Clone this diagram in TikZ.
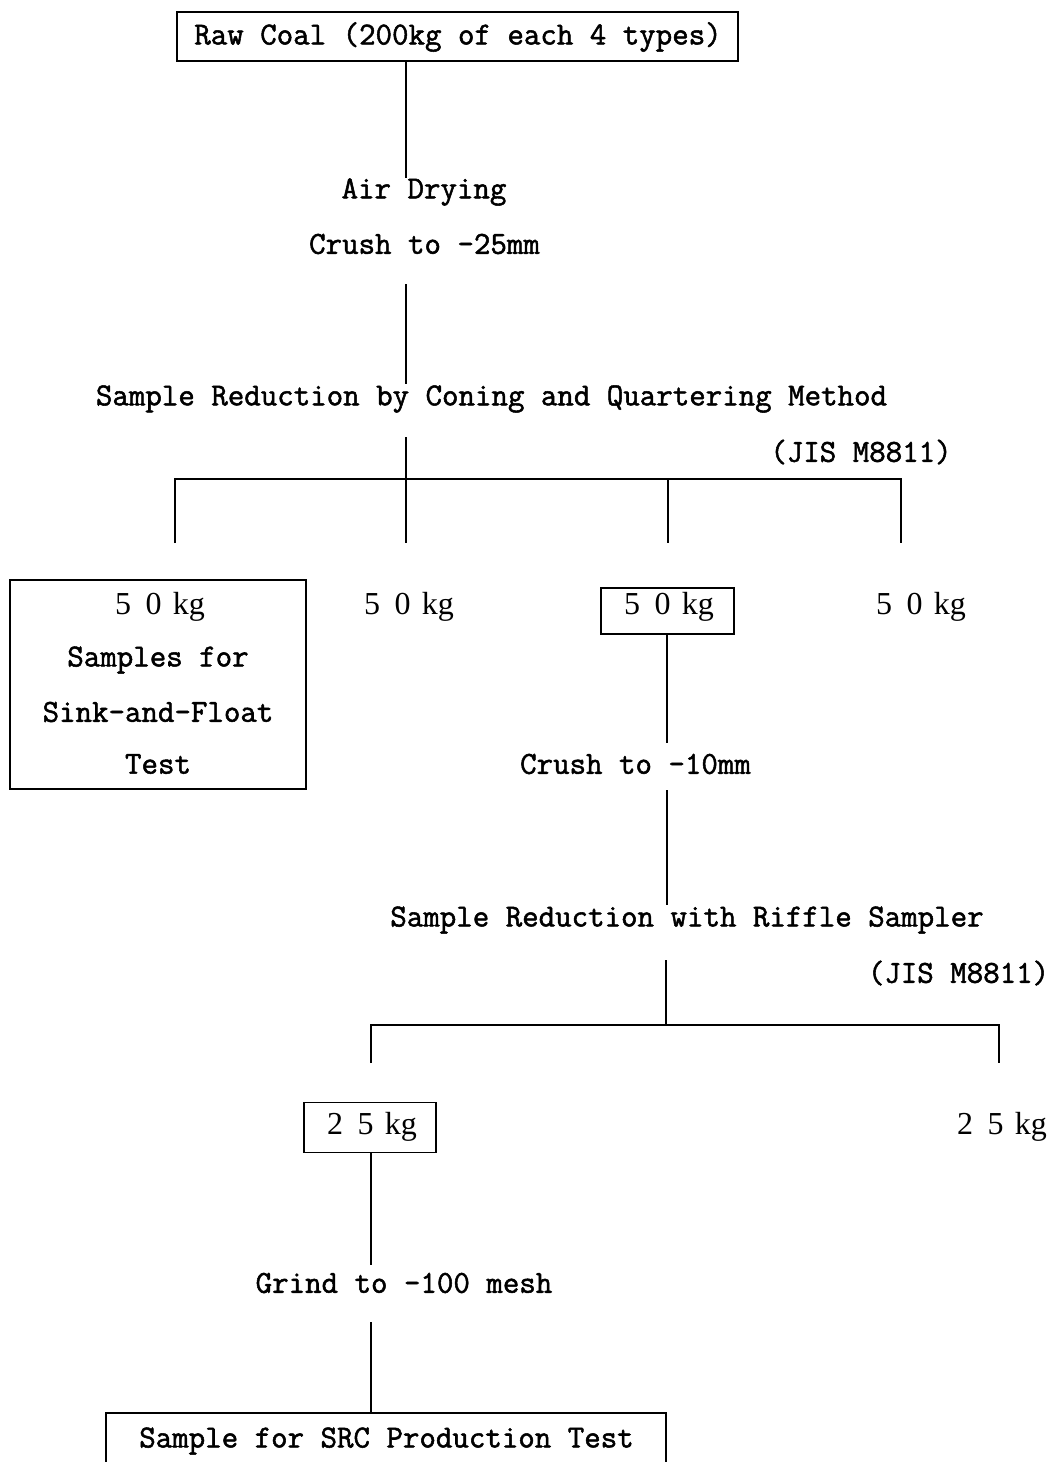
\documentclass[tikz,border=0pt]{standalone}
\usepackage{fontspec}
\setmonofont[FakeBold=1.6]{Latin Modern Mono}
\newfontfamily\kgfont{Liberation Serif}
\newcommand\kgtxt[2]{{\kgfont #1\hspace{0.45em}#2\hspace{0.35em}kg}}
\begin{document}
\begin{tikzpicture}[x=1pt,y=-1pt,
  every node/.style={font=\ttfamily\fontsize{32}{32}\selectfont, inner sep=0pt, anchor=center},
  kg/.style={font=\kgfont\fontsize{32}{32}\selectfont},
  frame/.style={draw, line width=1.3pt},
  conn/.style={line width=1.6pt}]
\useasboundingbox (0,0) rectangle (1054,1462);
\fill[white] (0,0) rectangle (1054,1462);

% top box
\node[frame, minimum width=561pt, minimum height=49pt] (raw) at (457.5,36.5) {};
\node (rawt) at (458,37) {Raw Coal (200kg of each 4 types)};

\node (air) at (424,192) {Air Drying};
\node (cr25) at (424.5,244) {Crush to -25mm};
\node (samp) at (491.5,399) {Sample Reduction by Coning and Quartering Method};
\node (jis1) at (861,452) {(JIS M8811)};

% left box
\node[frame, minimum width=296pt, minimum height=209pt] (sf) at (158,684.5) {};
\node[kg] (sf1) at (160,607) {\kgtxt{5}{0}};
\node (sf2) at (158,660) {Samples for};
\node (sf3) at (158,712) {Sink-and-Float};
\node (sf4) at (158,764) {Test};

\node[kg] (k2) at (409,607) {\kgtxt{5}{0}};
\node[frame, minimum width=133pt, minimum height=46pt] (k3) at (667.5,611) {};
\node[kg] (k3t) at (669,607) {\kgtxt{5}{0}};
\node[kg] (k4) at (921,607) {\kgtxt{5}{0}};

\node (cr10) at (635.5,764) {Crush to -10mm};
\node (rif) at (687,920) {Sample Reduction with Riffle Sampler};
\node (jis2) at (958.5,973) {(JIS M8811)};

\node[frame, minimum width=132pt, minimum height=50pt] (k25) at (370,1127.5) {};
\node[kg] (k25t) at (372,1127) {\kgtxt{2}{5}};
\node[kg] (k25b) at (1002,1127) {\kgtxt{2}{5}};

\node (grind) at (404,1283) {Grind to -100 mesh};

\node[frame, minimum width=560pt, minimum height=120pt] (src) at (386,1473) {};
\node (srct) at (386.5,1441) {Sample for SRC Production Test};

% coordinates for free ends
\coordinate (a1) at (406,178);
\coordinate (a2t) at (406,284);
\coordinate (a2b) at (406,384);
\coordinate (a3t) at (406,437);
\coordinate (h1l) at (175,479);
\coordinate (h1m) at (668,479);
\coordinate (h1r) at (901,479);
\coordinate (d1) at (175,543);
\coordinate (d2) at (406,543);
\coordinate (d3) at (668,543);
\coordinate (d4) at (901,543);
\coordinate (b1) at (667,743);
\coordinate (b2t) at (667,790);
\coordinate (b2b) at (667,905);
\coordinate (b3t) at (666,960);
\coordinate (h2) at (666,1025);
\coordinate (h2l) at (371,1025);
\coordinate (h2r) at (999,1025);
\coordinate (e1) at (371,1063);
\coordinate (e2) at (999,1063);
\coordinate (g1) at (371,1265);
\coordinate (g2t) at (371,1322);

\draw[conn] (raw.south -| a1) -- (a1);
\draw[conn] (a2t) -- (a2b);
\draw[conn] (a3t) -- (d2);
\draw[conn] (d1) -- (h1l) -- (h1r) -- (d4);
\draw[conn] (h1m) -- (d3);
\draw[conn] (k3.south -| b1) -- (b1);
\draw[conn] (b2t) -- (b2b);
\draw[conn] (b3t) -- (h2);
\draw[conn] (e1) -- (h2l) -- (h2r) -- (e2);
\draw[conn] (k25.south -| g1) -- (g1);
\draw[conn] (g2t) -- (src.north -| g2t);
\end{tikzpicture}
\end{document}
